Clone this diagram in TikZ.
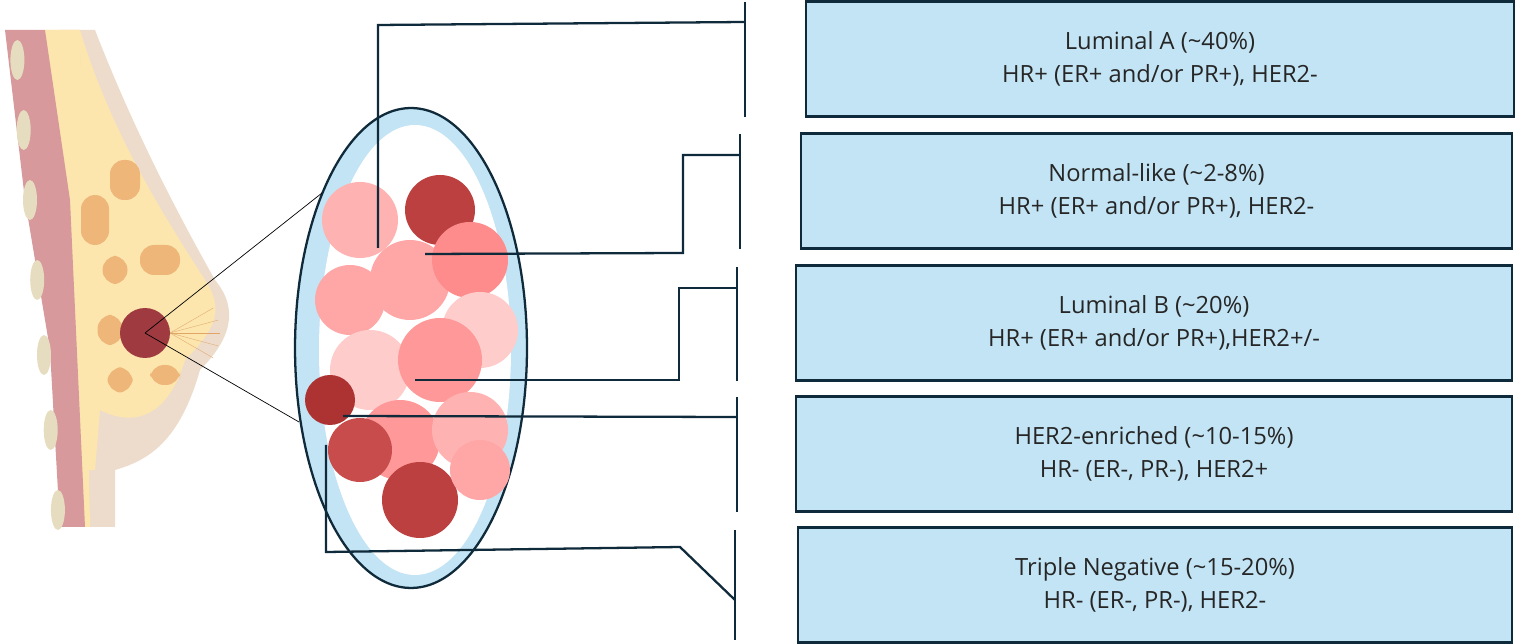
\documentclass[tikz,border=0pt]{standalone}
\usepackage{fontspec}
\setmainfont{Open Sans}
\usetikzlibrary{positioning,calc,shapes.geometric}
\definecolor{boxblue}{HTML}{C3E4F4}
\definecolor{navy}{HTML}{0F2A3A}
\definecolor{skin}{HTML}{EDDCCB}
\definecolor{fat}{HTML}{FCE6AE}
\definecolor{gland}{HTML}{EEB679}
\definecolor{wall}{HTML}{D7999B}
\definecolor{rib}{HTML}{E6DDC0}
\definecolor{tumor}{HTML}{9E3A40}
\tikzstyle{subtype} = [draw=navy, line width=1.2pt, fill=boxblue, minimum width=14.2cm, minimum height=2.3cm, align=center, font=\fontsize{13.5}{19}\selectfont, text=black!85]
\tikzstyle{link} = [draw=navy, line width=1.3pt]
\begin{document}
\begin{tikzpicture}[x=0.02cm, y=-0.02cm]
    \useasboundingbox (0,0) rectangle (1524,644);
    % breast
    \fill[skin] (60,30) -- (95,30) .. controls (130,120) and (170,200) .. (215,280) .. controls (240,310) and (230,340) .. (200,370) .. controls (180,440) and (150,460) .. (115,470) -- (115,527) -- (60,527) -- cycle;
    \fill[fat] (45,30) -- (80,30) .. controls (110,130) and (160,210) .. (205,280) .. controls (225,310) and (215,330) .. (185,360) .. controls (170,410) and (140,430) .. (100,410) -- (95,470) -- (85,470) -- (80,30) -- cycle;
    \fill[fat] (45,30) -- (80,30) -- (90,527) -- (80,527) -- cycle;
    \foreach \cx/\cy/\w/\h in {95/220/28/50, 125/180/30/40, 115/270/25/28, 160/260/40/30, 110/330/25/30, 120/380/25/25, 165/375/30/20}
        \fill[gland, rounded corners=8pt] (\cx-\w/2,\cy-\h/2) rectangle (\cx+\w/2,\cy+\h/2);
    \fill[wall] (5,30) -- (45,30) -- (70,200) -- (85,527) -- (60,527) -- (50,350) -- (25,200) -- cycle;
    \foreach \ry in {60,130,200,280,355,430,510}
        \fill[rib] ({12+\ry*0.09},\ry) ellipse (7 and 20);
    \node (tumor) [circle, fill=tumor, minimum size=1.0cm, inner sep=0pt] at (145,333) {};
    \foreach \a in {-30,-15,0,15,30}
        \draw[gland!70!brown, very thin] (tumor.center) ++(25,0) -- ++(\a:50);
    % zoomed cluster
    \node (cluster) [ellipse, draw=navy, line width=1.3pt, fill=boxblue, minimum width=4.64cm, minimum height=9.6cm] at (411,348) {};
    \fill[white] (415,350) ellipse (96 and 225);
    \foreach \cx/\cy/\r/\c in {360/220/38/red!30, 440/210/35/red!65!black!75, 410/280/40/red!35, 470/260/38/red!45, 350/300/35/red!35,
        480/330/38/red!20, 370/370/40/red!20, 440/360/42/red!40, 330/400/25/red!60!black!80, 400/440/40/red!40, 470/430/38/red!30,
        360/450/32/red!70!black!70, 420/500/38/red!65!black!75, 480/470/30/red!35}
        \fill[\c] (\cx,\cy) circle (\r);
    \draw[black] (tumor.center) -- (322,193);
    \draw[black] (tumor.center) -- (299,422);
    % subtype boxes
    \node (lumA) [subtype, minimum width=14.16cm] at (1160,59) {Luminal A (\textasciitilde40\%)\\HR+ (ER+ and/or PR+), HER2-};
    \node (normal) [subtype, minimum width=14.22cm] at (1156.5,191) {Normal-like (\textasciitilde2-8\%)\\HR+ (ER+ and/or PR+), HER2-};
    \node (lumB) [subtype, minimum width=14.32cm] at (1154,323) {Luminal B (\textasciitilde20\%)\\HR+ (ER+ and/or PR+),HER2+/-};
    \node (her2) [subtype, minimum width=14.32cm] at (1154,454) {HER2-enriched (\textasciitilde10-15\%)\\HR- (ER-, PR-), HER2+};
    \node (triple) [subtype, minimum width=14.28cm] at (1155,585) {Triple Negative (\textasciitilde15-20\%)\\HR- (ER-, PR-), HER2-};
    % brackets
    \foreach \bx/\top/\bot/\n in {745/2/117/a, 740/134/249/b, 737/267/381/c, 737/397/512/d, 735/530/640/e} {
        \coordinate (br\n top) at (\bx,\top);
        \coordinate (br\n bot) at (\bx,\bot);
        \draw[link, line width=1.6pt] (br\n top) -- (br\n bot);
    }
    % connectors
    \coordinate (pA) at (378,248);
    \coordinate (pB) at (425,254);
    \coordinate (pC) at (415,380);
    \coordinate (pD) at (343,416);
    \coordinate (pE) at (326,445);
    \draw[link] (pA) -- (378,25) -- (745,22);
    \draw[link] (pB) -- (683,253) -- (683,155) -- (740,155);
    \draw[link] (pC) -- (679,380) -- (679,288) -- (737,288);
    \draw[link] (pD) -- (737,417);
    \draw[link] (pE) -- (326,552) -- (680,547) -- (735,600);
\end{tikzpicture}
\end{document}
